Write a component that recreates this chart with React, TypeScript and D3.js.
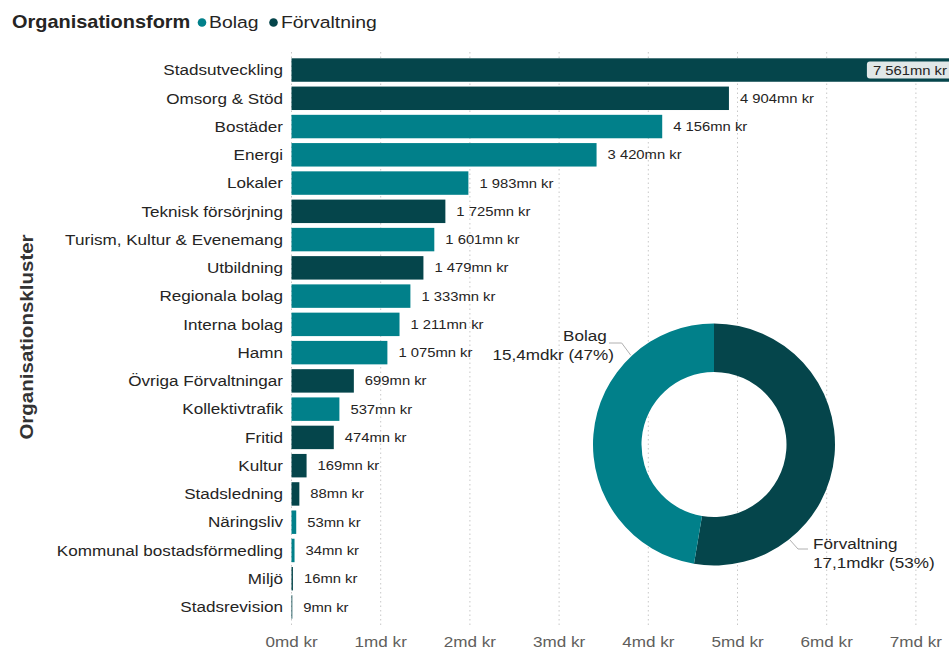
import React from "react";
import * as d3 from "d3";

const categories = [
  "Stadsutveckling", "Omsorg & Stöd", "Bostäder", "Energi", "Lokaler",
  "Teknisk försörjning", "Turism, Kultur & Evenemang", "Utbildning", "Regionala bolag",
  "Interna bolag", "Hamn", "Övriga Förvaltningar", "Kollektivtrafik", "Fritid", "Kultur",
  "Stadsledning", "Näringsliv", "Kommunal bostadsförmedling", "Miljö", "Stadsrevision",
];
const values = [7561, 4904, 4156, 3420, 1983, 1725, 1601, 1479, 1333, 1211, 1075, 699, 537, 474, 169, 88, 53, 34, 16, 9];
const forms = [
  "Förvaltning", "Förvaltning", "Bolag", "Bolag", "Bolag",
  "Förvaltning", "Bolag", "Förvaltning", "Bolag",
  "Bolag", "Bolag", "Förvaltning", "Bolag", "Förvaltning", "Förvaltning",
  "Förvaltning", "Bolag", "Bolag", "Förvaltning", "Förvaltning",
];
const legendForms = ["Bolag", "Förvaltning"];
const pieOrder = ["Förvaltning", "Bolag"];
const xTicks = [0, 1000, 2000, 3000, 4000, 5000, 6000, 7000];

const W = 949;
const H = 652;
const FONT = "'Liberation Sans', Arial, sans-serif";
const SX = 1.14;
const colors: Record<string, string> = { Bolag: "#01808A", "Förvaltning": "#05454B" };

const locale = d3.formatLocale({ decimal: ",", thousands: " ", grouping: [3], currency: ["", ""] });
const fmtInt = locale.format(",.0f");
const fmt1 = locale.format(".1f");

function T(props: any) {
  const { x, y, rotate, anchor = "start", size = 15, weight = "normal", fill = "#252423", dy = "0.35em", children } = props;
  return (
    <text
      transform={`translate(${x},${y})${rotate ? ` rotate(${rotate})` : ""} scale(${SX},1)`}
      textAnchor={anchor}
      fontSize={size}
      fontWeight={weight}
      fill={fill}
      dy={dy}
      fontFamily={FONT}
    >
      {children}
    </text>
  );
}

export default function App() {
  const x = d3.scaleLinear().domain([0, 7000]).range([291.5, 291.5 + 7 * 89.2]);
  const y = d3.scaleBand<string>().domain(categories).range([55.9, 621.1]).paddingInner(0.17).paddingOuter(0.085);
  const bw = y.bandwidth();

  const totals = pieOrder.map((f) => ({
    form: f,
    value: d3.sum(values.filter((_, i) => forms[i] === f)),
  }));
  const grand = d3.sum(totals, (d) => d.value);
  const pie = d3.pie<any>().sort(null).value((d) => d.value);
  const arcs = pie(totals);
  const cx = 714, cy = 444.5, R = 121, r0 = 72.5;
  const arc = d3.arc<any>().innerRadius(r0).outerRadius(R);

  const labelFor = (f: string) => {
    const t = totals.find((d) => d.form === f)!;
    return `${fmt1(t.value / 1000)}mdkr (${Math.round((t.value / grand) * 100)}%)`;
  };

  // leader lines (attach angles on outer arc)
  const pBol = d3.pointRadial((317 * Math.PI) / 180, R + 1);
  const pFor = d3.pointRadial((141.5 * Math.PI) / 180, R + 1);

  return (
    <svg width={W} height={H} style={{ position: "absolute", left: 0, top: 0, background: "#fff" }}>
      {/* legend */}
      <T x={12} y={22} size={17.5} weight="bold" fill="#252423">Organisationsform</T>
      <circle cx={202} cy={22.5} r={4.3} fill={colors[legendForms[0]]} />
      <T x={209} y={22} size={17} fill="#252423">{legendForms[0]}</T>
      <circle cx={273.5} cy={22.5} r={4.3} fill={colors[legendForms[1]]} />
      <T x={281} y={22} size={17} fill="#252423">{legendForms[1]}</T>

      {/* grid */}
      {xTicks.map((t) => (
        <line key={t} x1={x(t)} x2={x(t)} y1={52} y2={626} stroke="#c8c8c8" strokeWidth={1} strokeDasharray="1.5,3" />
      ))}

      {/* axis title */}
      <T x={27} y={337} rotate={-90} anchor="middle" size={18} weight="bold" fill="#333">Organisationskluster</T>

      {/* bars */}
      {categories.map((c, i) => (
        <rect key={c} x={x(0)} y={y(c)!} width={Math.max(0, x(values[i]) - x(0))} height={bw} fill={colors[forms[i]]} />
      ))}

      {/* category labels */}
      {categories.map((c) => (
        <T key={c} x={283} y={y(c)! + bw / 2} anchor="end" size={15}>{c}</T>
      ))}

      {/* value labels */}
      {categories.map((c, i) => {
        const end = x(values[i]);
        const txt = `${fmtInt(values[i])}mn kr`;
        const cyv = y(c)! + bw / 2;
        if (end > W) {
          const tw = 13 * 5.0 * SX;
          const tx = W - 2 - tw;
          return (
            <g key={c}>
              <rect x={tx - 6} y={cyv - 8.5} width={tw + 20} height={17} rx={3} fill="#e1e8e8" />
              <T x={tx} y={cyv} size={13}>{txt}</T>
            </g>
          );
        }
        return <T key={c} x={end + 11} y={cyv} size={13}>{txt}</T>;
      })}

      {/* x tick labels */}
      {xTicks.map((t) => (
        <T key={t} x={x(t)} y={642} anchor="middle" size={15} fill="#605E5C">{`${t / 1000}md kr`}</T>
      ))}

      {/* donut */}
      <g transform={`translate(${cx},${cy})`}>
        {arcs.map((a) => (
          <path key={a.data.form} d={arc(a)!} fill={colors[a.data.form]} />
        ))}
        <polyline
          points={`${pBol[0]},${pBol[1]} ${621.7 - cx},${343 - cy} ${609 - cx},${343 - cy}`}
          fill="none" stroke="#b0b0b0" strokeWidth={1}
        />
        <polyline
          points={`${pFor[0]},${pFor[1]} ${798 - cx},${549 - cy} ${808 - cx},${549 - cy}`}
          fill="none" stroke="#b0b0b0" strokeWidth={1}
        />
      </g>
      <T x={563} y={336} size={15} fill="#252423">Bolag</T>
      <T x={614} y={355} anchor="end" size={15} fill="#252423">{labelFor("Bolag")}</T>
      <T x={813} y={544} size={15} fill="#252423">Förvaltning</T>
      <T x={813} y={563} size={15} fill="#252423">{labelFor("Förvaltning")}</T>
    </svg>
  );
}
